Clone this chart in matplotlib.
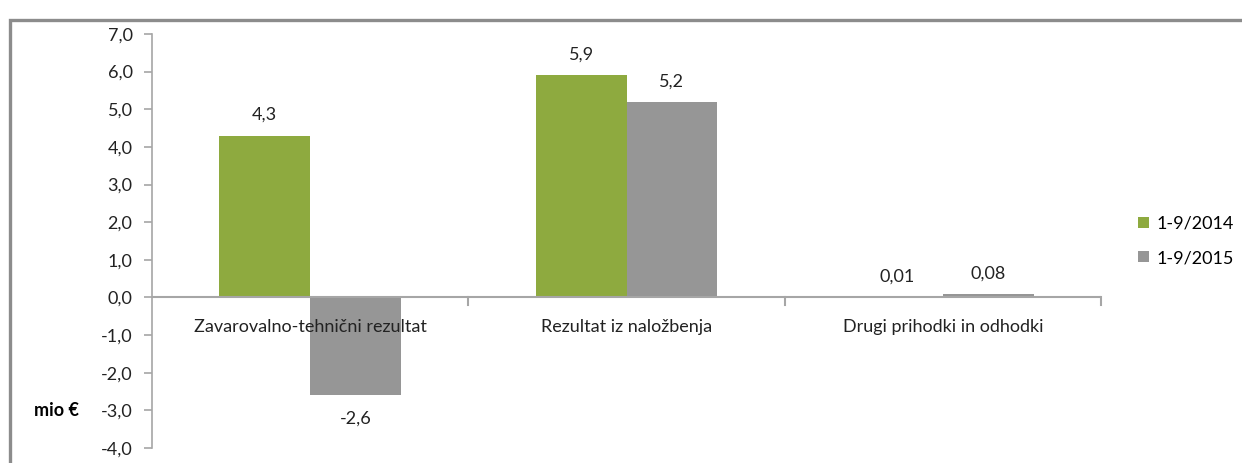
import matplotlib
matplotlib.use("Agg")
import matplotlib.pyplot as plt
from matplotlib.patches import Rectangle
import numpy as np

plt.rcParams['font.family'] = ['Lato', 'DejaVu Sans']

# data
categories = ["Zavarovalno-tehnični rezultat", "Rezultat iz naložbenja", "Drugi prihodki in odhodki"]
series_names = ["1-9/2014", "1-9/2015"]
vals_2014 = [4.3, 5.9, 0.01]
vals_2015 = [-2.6, 5.2, 0.08]
labels_2014 = ["4,3", "5,9", "0,01"]
labels_2015 = ["-2,6", "5,2", "0,08"]
yticks = np.arange(-4, 8, 1)

green = "#8eaa3f"
grey = "#969696"
axcol = "#a6a6a6"
fs = 13

fig = plt.figure(figsize=(12.42, 4.63), dpi=100)
ax = fig.add_axes([0.1224, 0.0324, 0.7641, 0.8942])

# frame around chart area (only top and left visible)
fig.patches.append(Rectangle((10/1242, -0.1), 1.2, 1 - 20/463 + 0.1, transform=fig.transFigure,
                             fill=False, edgecolor="#8c8c8c", linewidth=2.4, zorder=0))

x = np.arange(len(categories))
w = 0.287
b1 = ax.bar(x - w/2, vals_2014, w, color=green, label=series_names[0], zorder=2)
b2 = ax.bar(x + w/2, vals_2015, w, color=grey, label=series_names[1], zorder=2)

for bars, labs, vals in [(b1, labels_2014, vals_2014), (b2, labels_2015, vals_2015)]:
    for rect, lab, v in zip(bars, labs, vals):
        ax.annotate(lab, (rect.get_x() + rect.get_width()/2, v), xytext=(0, 9 if v >= 0 else -11),
                    textcoords="offset points", ha="center", va="bottom" if v >= 0 else "top",
                    fontsize=fs, color="#222222")

ax.set_xlim(-0.5, len(categories) - 0.5)
ax.set_ylim(-4, 7)
ax.set_yticks(yticks)
ax.set_yticklabels([f"{t:.1f}".replace(".", ",") for t in yticks])

# category axis at zero
ax.axhline(0, color=axcol, linewidth=1.5, zorder=3)
for xb in [0.5, 1.5, 2.5]:
    ax.plot([xb, xb], [0, -0.2], color=axcol, linewidth=1.5, zorder=3, clip_on=False)
ax.set_xticks([])
for i, c in enumerate(categories):
    ax.text(i, -0.78, c, ha="center", va="center", fontsize=fs, color="#222222", zorder=4)

for s in ["top", "right", "bottom"]:
    ax.spines[s].set_visible(False)
ax.spines["left"].set_color(axcol)
ax.spines["left"].set_linewidth(1.2)
ax.tick_params(axis="y", colors=axcol, labelcolor="#222222", labelsize=fs, length=6, width=1.2, pad=8)

fig.text(34/1242, 1 - 410/463, "mio €", fontsize=fs, fontweight="bold", va="center", ha="left")

ax.legend(loc="center left", bbox_to_anchor=(1.022, 0.5), frameon=False, fontsize=fs,
          handlelength=0.6, handleheight=0.6, handletextpad=0.4, labelspacing=1.0)

fig.savefig("out.png", dpi=100)
